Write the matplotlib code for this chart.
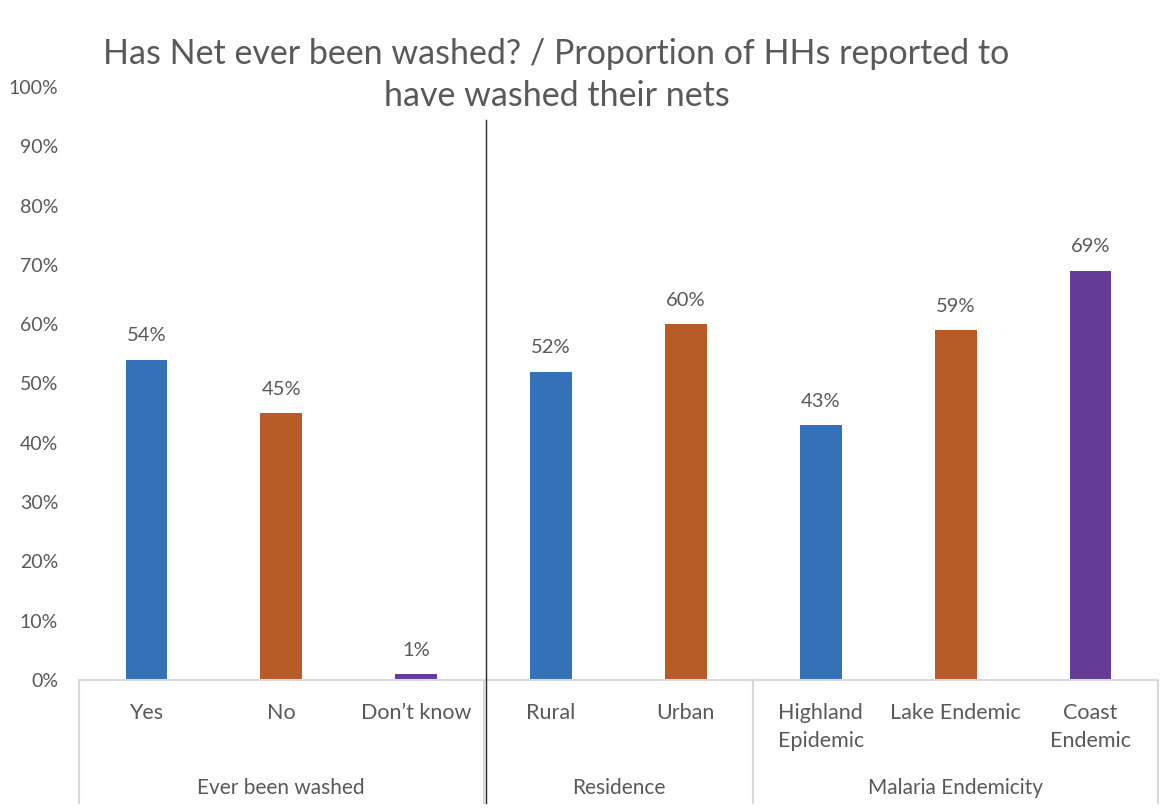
import matplotlib
matplotlib.use("Agg")
import matplotlib.pyplot as plt
from matplotlib.lines import Line2D
from matplotlib.ticker import PercentFormatter

# Survey results: share of households by net-washing status and subgroup
categories = ["Yes", "No", "Don\u2019t know", "Rural", "Urban",
              "Highland\nEpidemic", "Lake Endemic", "Coast\nEndemic"]
values = [54, 45, 1, 52, 60, 43, 59, 69]
groups = ["Ever been washed", "Residence", "Malaria Endemicity"]
group_sizes = [3, 2, 3]
yticks = [0, 10, 20, 30, 40, 50, 60, 70, 80, 90, 100]

BLUE = "#3571B8"
ORANGE = "#B85B26"
PURPLE = "#643C97"
bar_colors = [BLUE, ORANGE, PURPLE, BLUE, ORANGE, BLUE, ORANGE, PURPLE]
TEXT = "#595959"
GRID = "#D9D9D9"

plt.rcParams["font.family"] = ["Lato", "DejaVu Sans"]

fig = plt.figure(figsize=(11.7, 8.1), dpi=100)
ax = fig.add_axes([0.0675, 0.1605, 0.9222, 0.7321])

x = list(range(len(categories)))
bars = ax.bar(x, values, width=0.31, color=bar_colors, zorder=2)

for xi, v in zip(x, values):
    ax.text(xi, v + 2.6, f"{v}%", ha="center", va="bottom",
            fontsize=14.5, color=TEXT)

ax.set_xlim(-0.5, len(categories) - 0.5)
ax.set_ylim(0, 100)
ax.set_yticks(yticks)
ax.yaxis.set_major_formatter(PercentFormatter(decimals=0))
ax.tick_params(axis="y", length=0, labelsize=14, labelcolor=TEXT, pad=15)
ax.set_xticks([])

for side in ["top", "right", "left"]:
    ax.spines[side].set_visible(False)
ax.spines["bottom"].set_color(GRID)
ax.spines["bottom"].set_linewidth(1.5)

# Category labels (first level)
tr = ax.get_xaxis_transform()
for xi, lab in zip(x, categories):
    ax.text(xi, -0.038, lab, transform=tr, ha="center", va="top",
            fontsize=15.5, color=TEXT, linespacing=1.55)

# Group labels and separators (second level)
edges = [-0.5]
for n in group_sizes:
    edges.append(edges[-1] + n)
for e in edges:
    ax.add_line(Line2D([e, e], [0, -0.207], transform=tr, color=GRID,
                       linewidth=1.5, clip_on=False))
for name, lo, hi in zip(groups, edges[:-1], edges[1:]):
    ax.text((lo + hi) / 2, -0.182, name, transform=tr, ha="center",
            va="center", fontsize=15, color=TEXT)

# Divider between the washing question and the subgroup breakdowns
ax.add_line(Line2D([edges[1] + 0.02] * 2, [0.944, -0.207], transform=tr,
                   color="#262626", linewidth=1.0, clip_on=False, zorder=3))

fig.text(0.4756, 0.907,
         "Has Net ever been washed? / Proportion of HHs reported to\nhave washed their nets",
         ha="center", va="center", fontsize=24.5, color=TEXT, linespacing=1.38)

fig.savefig("out.png", dpi=100)
